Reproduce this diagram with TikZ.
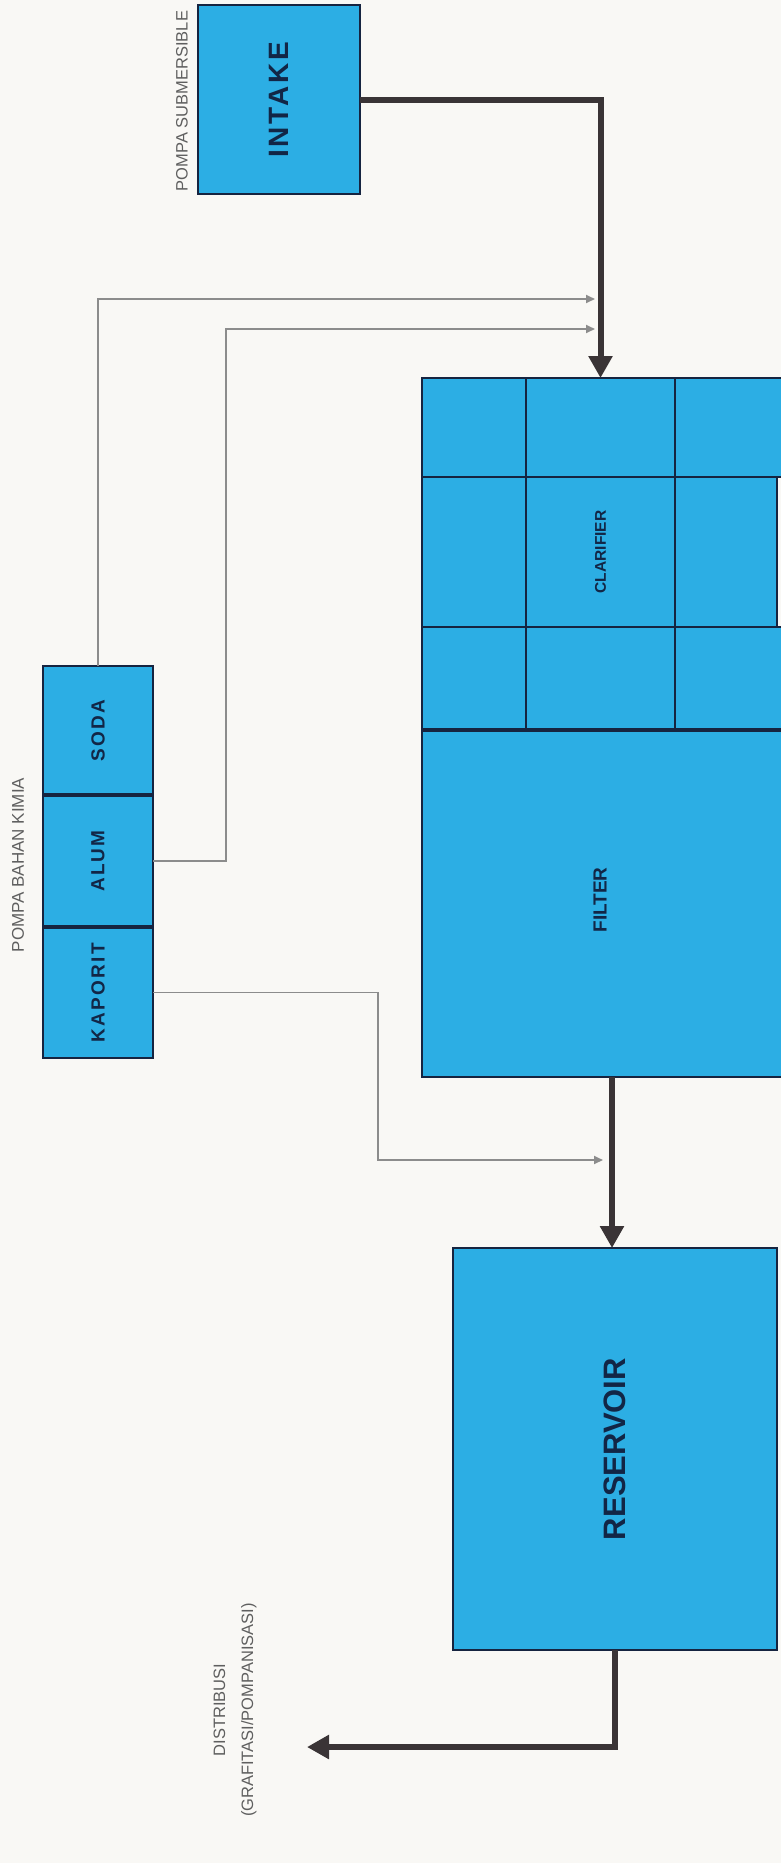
\documentclass[tikz,border=0pt]{standalone}
\usepackage{fontspec}
\usepackage{graphicx}
\setmainfont{Liberation Sans}
\usetikzlibrary{arrows.meta}

\definecolor{tankblue}{RGB}{44,174,228}
\definecolor{edgenavy}{RGB}{22,36,64}
\definecolor{labelnavy}{RGB}{18,38,70}
\definecolor{pipe}{RGB}{58,52,54}
\definecolor{dosing}{RGB}{140,140,140}
\definecolor{captiongray}{RGB}{95,95,95}
\definecolor{paper}{RGB}{249,248,245}

\newcommand{\boxlabel}[2]{\rotatebox{90}{\fontsize{#1}{#1}\selectfont\bfseries #2}}
\newcommand{\spacedlabel}[3]{\rotatebox{90}{\fontsize{#1}{#1}\selectfont\bfseries\addfontfeature{LetterSpace=#2}#3}}

\tikzset{
  tank/.style={draw=edgenavy, line width=2pt, fill=tankblue, inner sep=0pt, outer sep=0pt, text=labelnavy},
  cell/.style={tank, line width=2.5pt},
  flow/.style={draw=pipe, line width=6pt, -{Triangle[length=22pt,width=23pt]}},
  dose/.style={draw=dosing, line width=1.8pt, -{Triangle[length=9pt,width=8pt]}},
  caption/.style={text=captiongray, inner sep=0pt, rotate=90, align=center},
}

\begin{document}
\begin{tikzpicture}[x=1pt,y=-1pt]
\useasboundingbox (0,0) rectangle (781,1863);
\fill[paper] (0,0) rectangle (781,1863);
\begin{scope}
\clip (0,0) rectangle (781,1863);

% intake pump
\node[tank, minimum width=162pt, minimum height=189pt] (intake) at (279,99.5)
  {\spacedlabel{28}{10}{INTAKE}};
\node[caption, font=\fontsize{16.5}{16.5}\selectfont] (intakecap) at (182,101) {POMPA SUBMERSIBLE};

% clarifier: 3 x 3 cells
\node[cell, minimum width=104pt, minimum height=99pt]  (c11) at (474,427.5) {};
\node[cell, minimum width=149pt, minimum height=99pt]  (c12) at (600.5,427.5) {};
\node[cell, minimum width=125pt, minimum height=99pt]  (c13) at (737.5,427.5) {};
\node[cell, minimum width=104pt, minimum height=150pt] (c21) at (474,552) {};
\node[cell, minimum width=149pt, minimum height=150pt] (c22) at (600.5,552)
  {\boxlabel{15.5}{CLARIFIER}};
\node[cell, minimum width=102pt, minimum height=150pt] (c23) at (726,552) {};
\node[cell, minimum width=104pt, minimum height=103pt] (c31) at (474,678.5) {};
\node[cell, minimum width=149pt, minimum height=103pt] (c32) at (600.5,678.5) {};
\node[cell, minimum width=125pt, minimum height=103pt] (c33) at (737.5,678.5) {};

% filter
\node[tank, minimum width=362pt, minimum height=347pt] (filter) at (603,903.5) {};
\node[text=labelnavy, inner sep=0pt] (filterlabel) at (600,900) {\boxlabel{19}{FILTER}};
\draw[edgenavy, line width=4.5pt] (filter.north west) -- (filter.north east);

% reservoir
\node[tank, minimum width=324pt, minimum height=402pt] (reservoir) at (615,1449)
  {\boxlabel{31}{RESERVOIR}};

% chemical dosing pumps
\node[tank, minimum width=110pt, minimum height=129pt] (soda) at (98,730.5)
  {\spacedlabel{19}{12}{SODA}};
\node[tank, minimum width=110pt, minimum height=132pt] (alum) at (98,861)
  {\spacedlabel{19}{12}{ALUM}};
\node[tank, minimum width=110pt, minimum height=131pt] (kaporit) at (98,992.5)
  {\spacedlabel{19}{12}{KAPORIT}};
\draw[edgenavy, line width=4.5pt] (soda.south west) -- (soda.south east);
\draw[edgenavy, line width=4.5pt] (alum.south west) -- (alum.south east);
\node[caption, font=\fontsize{17}{17}\selectfont] (chemcap) at (18,865) {POMPA BAHAN KIMIA};

% main water flow
\draw[flow] (intake.east) -| (c12.north);
\draw[flow] ([xshift=9pt]filter.south) -- ([xshift=9pt]filter.south |- reservoir.north);
\coordinate (distend) at (307,1747);
\draw[flow] (reservoir.south) |- (distend);
\node[caption, font=\fontsize{16.5}{28}\selectfont] (distcap) at (235,1710)
  {DISTRIBUSI\\(GRAFITASI/POMPANISASI)};

% chemical dosing lines
\coordinate (sodain) at (595,299);
\coordinate (alumin) at (595,329);
\coordinate (kaporitin) at (603,1160);
\draw[dose] (soda.north) |- (sodain);
\draw[dose] (alum.east) -- ++(73,0) |- (alumin);
\draw[dose] (kaporit.east) -- ++(225,0) |- (kaporitin);

\end{scope}
\end{tikzpicture}
\end{document}
